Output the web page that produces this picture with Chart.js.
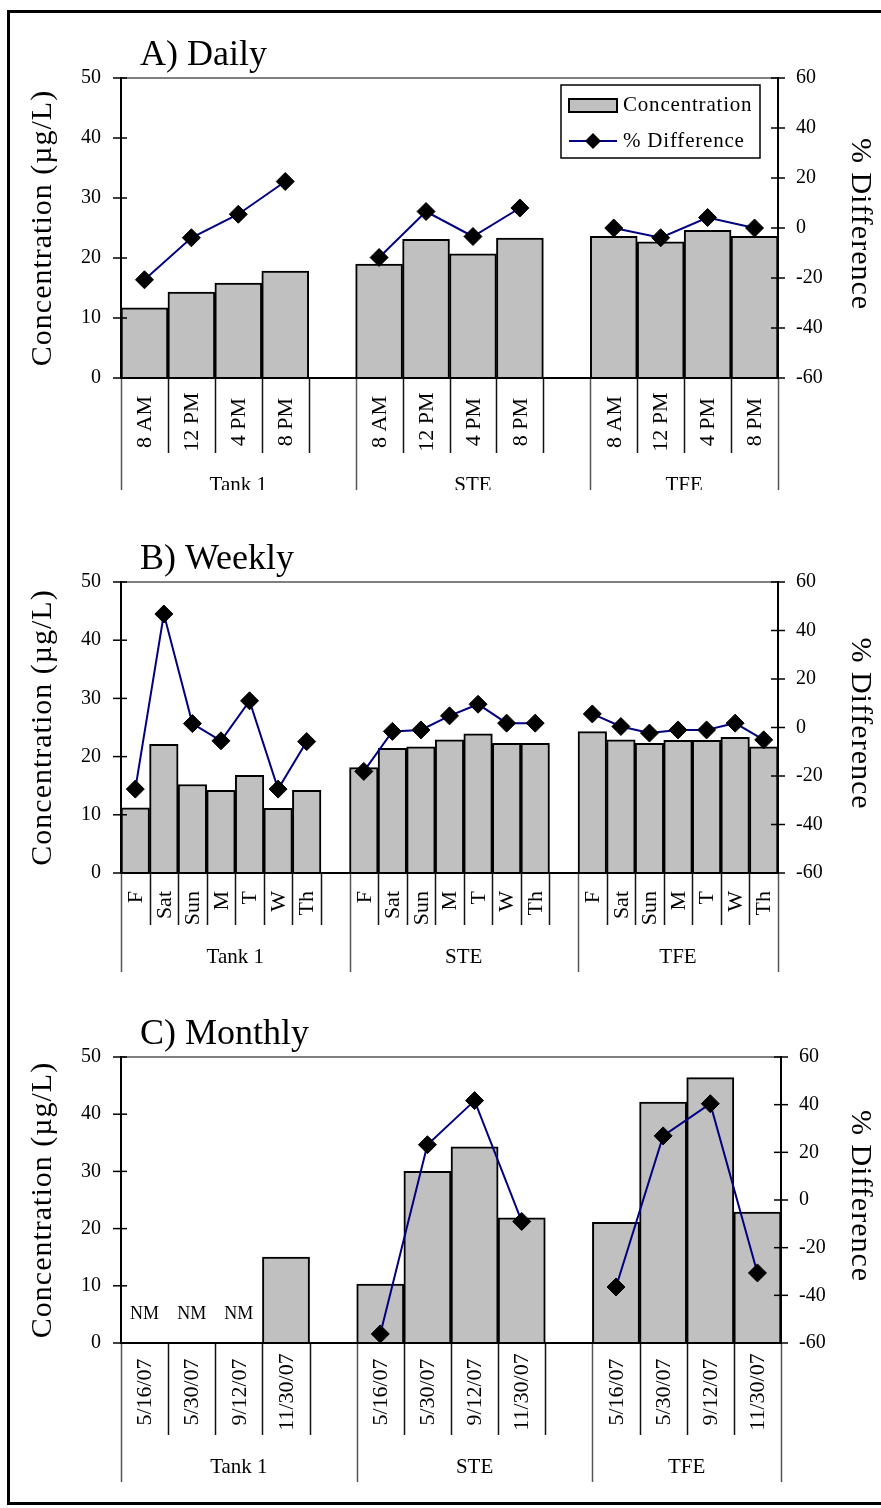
<!DOCTYPE html>
<html>
<head>
<meta charset="utf-8">
<script src="https://cdn.jsdelivr.net/npm/chart.js@4.4.1/dist/chart.umd.min.js"></script>
<style>
  html, body { margin: 0; padding: 0; background: #fff; }
  body { width: 881px; height: 1508px; position: relative; overflow: hidden; }
  #frame { position: absolute; left: 7px; top: 10px; width: 900px; height: 1489px;
           border-left: 3px solid #000; border-top: 3px solid #000; border-bottom: 3px solid #000; }
  .panel { position: absolute; left: 0; width: 881px; }
</style>
</head>
<body>
<div id="frame"></div>
<div class="panel" style="top:0;height:490px"><canvas id="daily"></canvas></div>
<div class="panel" style="top:495px;height:485px"><canvas id="weekly"></canvas></div>
<div class="panel" style="top:985px;height:505px"><canvas id="monthly"></canvas></div>

<script>
const serif = "'Liberation Serif', 'Times New Roman', serif";

const groups = ['Tank 1', 'STE', 'TFE'];
const missingLabel = 'NM';

// A) Daily
const dailyLabels = ['8 AM', '12 PM', '4 PM', '8 PM'];
const dailyTank1 = [11.7, 14.3, 15.8, 17.8];
const dailySTE = [19.0, 23.1, 20.7, 23.3];
const dailyTFE = [23.6, 22.7, 24.6, 23.6];
const dailyDiffTank1 = [-20.7, -3.9, 5.5, 18.6];
const dailyDiffSTE = [-11.8, 6.6, -3.4, 8.0];
const dailyDiffTFE = [0.0, -3.9, 4.2, 0.0];

// B) Weekly
const weeklyLabels = ['F', 'Sat', 'Sun', 'M', 'T', 'W', 'Th'];
const weeklyTank1 = [11.2, 22.1, 15.2, 14.2, 16.8, 11.1, 14.2];
const weeklySTE = [18.1, 21.4, 21.7, 22.9, 23.9, 22.3, 22.3];
const weeklyTFE = [24.3, 22.9, 22.3, 22.8, 22.8, 23.3, 21.7];
const weeklyDiffTank1 = [-25.4, 46.8, 1.6, -5.5, 11.0, -25.4, -5.8];
const weeklyDiffSTE = [-18.1, -1.6, -1.0, 4.8, 9.6, 1.8, 1.8];
const weeklyDiffTFE = [5.6, 0.4, -2.3, -1.0, -1.0, 1.8, -5.1];

// C) Monthly (Tank 1 not measured on the first three dates)
const monthlyLabels = ['5/16/07', '5/30/07', '9/12/07', '11/30/07'];
const monthlyTank1 = [null, null, null, 15.0];
const monthlySTE = [10.3, 30.0, 34.3, 21.9];
const monthlyTFE = [21.1, 42.1, 46.4, 22.9];
const monthlyDiffTank1 = [null, null, null, null];
const monthlyDiffSTE = [-56.2, 23.2, 41.7, -9.0];
const monthlyDiffTFE = [-36.5, 26.9, 40.4, -30.6];

// one empty slot between groups
function withGaps(parts, gap) {
  const out = [];
  parts.forEach((p, i) => {
    out.push(...p);
    if (i < parts.length - 1) out.push(gap);
  });
  return out;
}

function seg(ctx, x1, y1, x2, y2) {
  ctx.beginPath();
  ctx.moveTo(x1, y1);
  ctx.lineTo(x2, y2);
  ctx.stroke();
}

const panelDecor = {
  id: 'panelDecor',
  afterDraw(chart, args, o) {
    const ctx = chart.ctx;
    const { left, right, top, bottom } = chart.chartArea;
    const xs = chart.scales.x, ys = chart.scales.y, ys2 = chart.scales.y2;
    const labels = chart.data.labels;
    const slots = labels.length;
    const half = (xs.getPixelForValue(1) - xs.getPixelForValue(0)) / 2;
    const edge = k => k < slots ? xs.getPixelForValue(k) - half : xs.getPixelForValue(slots - 1) + half;
    ctx.save();

    // plot frame + tick marks
    ctx.lineWidth = 2;
    ctx.strokeStyle = '#808080';
    seg(ctx, left, top, right, top);
    ctx.strokeStyle = '#000';
    seg(ctx, left, top - 1, left, bottom + 1);
    seg(ctx, right, top - 1, right, bottom + 1);
    seg(ctx, left, bottom, right, bottom);
    ctx.lineWidth = 1.5;
    ys.ticks.forEach((t, i) => { const py = ys.getPixelForTick(i); seg(ctx, left - 8, py, left + 6, py); });
    ys2.ticks.forEach((t, i) => { const py = ys2.getPixelForTick(i); seg(ctx, right - 7, py, right + 7, py); });

    // separators under the axis
    for (let k = 0; k <= slots; k++) {
      const isGroup = k % (o.perGroup + 1) === 0 || k === slots;
      ctx.strokeStyle = isGroup ? '#555' : '#111';
      ctx.lineWidth = 1.5;
      const px = Math.round(edge(k)) + 0.5;
      seg(ctx, px, bottom + 1, px, bottom + (isGroup ? o.groupLen : o.sepLen));
    }

    // category labels
    ctx.fillStyle = '#000';
    ctx.font = '22px ' + serif;
    labels.forEach((lab, i) => {
      if (!lab) return;
      ctx.save();
      ctx.translate(xs.getPixelForValue(i) + 1, bottom + o.labelPos);
      ctx.rotate(-Math.PI / 2);
      ctx.textAlign = o.labelAlign;
      ctx.textBaseline = 'middle';
      ctx.fillText(lab, 0, 0);
      ctx.restore();
    });

    // group labels
    ctx.font = '21px ' + serif;
    ctx.textAlign = 'center';
    ctx.textBaseline = 'middle';
    groups.forEach((g, gi) => {
      const a = edge(gi * (o.perGroup + 1));
      const b = edge(Math.min((gi + 1) * (o.perGroup + 1), slots));
      ctx.fillText(g, (a + b) / 2, bottom + o.groupPos);
    });

    // not-measured markers
    const conc = chart.data.datasets[1].data;
    ctx.font = '18px ' + serif;
    labels.forEach((lab, i) => {
      if (lab && conc[i] === null) ctx.fillText(missingLabel, xs.getPixelForValue(i), ys.getPixelForValue(5));
    });

    // panel title
    ctx.font = '36px ' + serif;
    ctx.textAlign = 'left';
    ctx.textBaseline = 'alphabetic';
    ctx.fillText(o.title, 140, top - 13);

    // axis titles
    ctx.font = '30px ' + serif;
    ctx.letterSpacing = '1px';
    ctx.textAlign = 'center';
    ctx.textBaseline = 'middle';
    ctx.save();
    ctx.translate(43, (top + bottom) / 2);
    ctx.rotate(-Math.PI / 2);
    ctx.fillText('Concentration (\u00b5g/L)', 0, 0);
    ctx.restore();
    ctx.save();
    ctx.translate(860, (top + bottom) / 2 - 4);
    ctx.rotate(Math.PI / 2);
    ctx.fillText('% Difference', 0, 0);
    ctx.restore();
    ctx.letterSpacing = '0px';

    // legend box (first panel only)
    if (o.legend) {
      const bx = right - 217, by = top + 7, bw = 199, bh = 73;
      ctx.fillStyle = '#fff';
      ctx.fillRect(bx, by, bw, bh);
      ctx.strokeStyle = '#000';
      ctx.lineWidth = 1.5;
      ctx.strokeRect(bx, by, bw, bh);
      const bar = chart.data.datasets[1], line = chart.data.datasets[0];
      ctx.fillStyle = bar.backgroundColor;
      ctx.fillRect(bx + 8, by + 14, 48, 13);
      ctx.lineWidth = 2;
      ctx.strokeRect(bx + 8, by + 14, 48, 13);
      ctx.strokeStyle = line.borderColor;
      seg(ctx, bx + 8, by + 56, bx + 56, by + 56);
      ctx.fillStyle = '#000';
      ctx.beginPath();
      ctx.moveTo(bx + 32, by + 48);
      ctx.lineTo(bx + 40, by + 56);
      ctx.lineTo(bx + 32, by + 64);
      ctx.lineTo(bx + 24, by + 56);
      ctx.closePath();
      ctx.fill();
      ctx.font = '21px ' + serif;
      ctx.letterSpacing = '0.8px';
      ctx.textAlign = 'left';
      ctx.fillText(bar.label, bx + 62, by + 20);
      ctx.fillText(line.label, bx + 62, by + 56);
      ctx.letterSpacing = '0px';
    }
    ctx.restore();
  }
};

function makeChart(id, p) {
  return new Chart(document.getElementById(id), {
    type: 'bar',
    data: {
      labels: withGaps(groups.map(() => p.labels), ''),
      datasets: [
        {
          type: 'line',
          label: '% Difference',
          data: withGaps(p.diff, null),
          yAxisID: 'y2',
          borderColor: '#000080',
          borderWidth: 2,
          tension: 0,
          spanGaps: false,
          clip: false,
          pointStyle: 'rectRot',
          pointRadius: 9,
          pointHoverRadius: 9,
          pointBackgroundColor: '#000',
          pointBorderColor: '#000',
          pointBorderWidth: 1
        },
        {
          label: 'Concentration',
          data: withGaps(p.conc, null),
          yAxisID: 'y',
          backgroundColor: '#c0c0c0',
          borderColor: '#000',
          borderWidth: 2,
          categoryPercentage: 1,
          barPercentage: 1
        }
      ]
    },
    options: {
      responsive: true,
      maintainAspectRatio: false,
      animation: false,
      events: [],
      layout: { padding: { top: p.top, left: 0, right: 0, bottom: 0 } },
      plugins: {
        legend: { display: false },
        tooltip: { enabled: false },
        panelDecor: {
          title: p.title,
          perGroup: p.labels.length,
          legend: p.legend,
          labelAlign: p.labelAlign,
          labelPos: p.labelPos,
          sepLen: p.sepLen,
          groupLen: p.groupLen,
          groupPos: p.groupPos
        }
      },
      scales: {
        x: {
          ticks: { display: false },
          grid: { display: false, drawTicks: false },
          border: { display: false },
          afterFit: s => { s.height = p.xHeight; }
        },
        y: {
          position: 'left',
          min: 0, max: 50,
          ticks: { stepSize: 10, padding: 20, color: '#000', font: { family: serif, size: 20 } },
          grid: { display: false, drawTicks: false },
          border: { display: false },
          afterFit: s => { s.width = 121; }
        },
        y2: {
          position: 'right',
          min: -60, max: 60,
          ticks: { stepSize: 20, padding: 18, color: '#000', font: { family: serif, size: 20 } },
          grid: { display: false, drawTicks: false },
          border: { display: false },
          afterFit: s => { s.width = 881 - p.right; }
        }
      }
    },
    plugins: [panelDecor]
  });
}

makeChart('daily', {
  title: 'A) Daily', legend: true,
  labels: dailyLabels,
  conc: [dailyTank1, dailySTE, dailyTFE],
  diff: [dailyDiffTank1, dailyDiffSTE, dailyDiffTFE],
  top: 78, xHeight: 112, right: 778,
  labelAlign: 'center', labelPos: 44, sepLen: 75, groupLen: 112, groupPos: 107
});

makeChart('weekly', {
  title: 'B) Weekly', legend: false,
  labels: weeklyLabels,
  conc: [weeklyTank1, weeklySTE, weeklyTFE],
  diff: [weeklyDiffTank1, weeklyDiffSTE, weeklyDiffTFE],
  top: 87, xHeight: 107, right: 778,
  labelAlign: 'right', labelPos: 18, sepLen: 52, groupLen: 99, groupPos: 84
});

makeChart('monthly', {
  title: 'C) Monthly', legend: false,
  labels: monthlyLabels,
  conc: [monthlyTank1, monthlySTE, monthlyTFE],
  diff: [monthlyDiffTank1, monthlyDiffSTE, monthlyDiffTFE],
  top: 72, xHeight: 147, right: 781,
  labelAlign: 'center', labelPos: 49, sepLen: 92, groupLen: 139, groupPos: 124
});
</script>
</body>
</html>
